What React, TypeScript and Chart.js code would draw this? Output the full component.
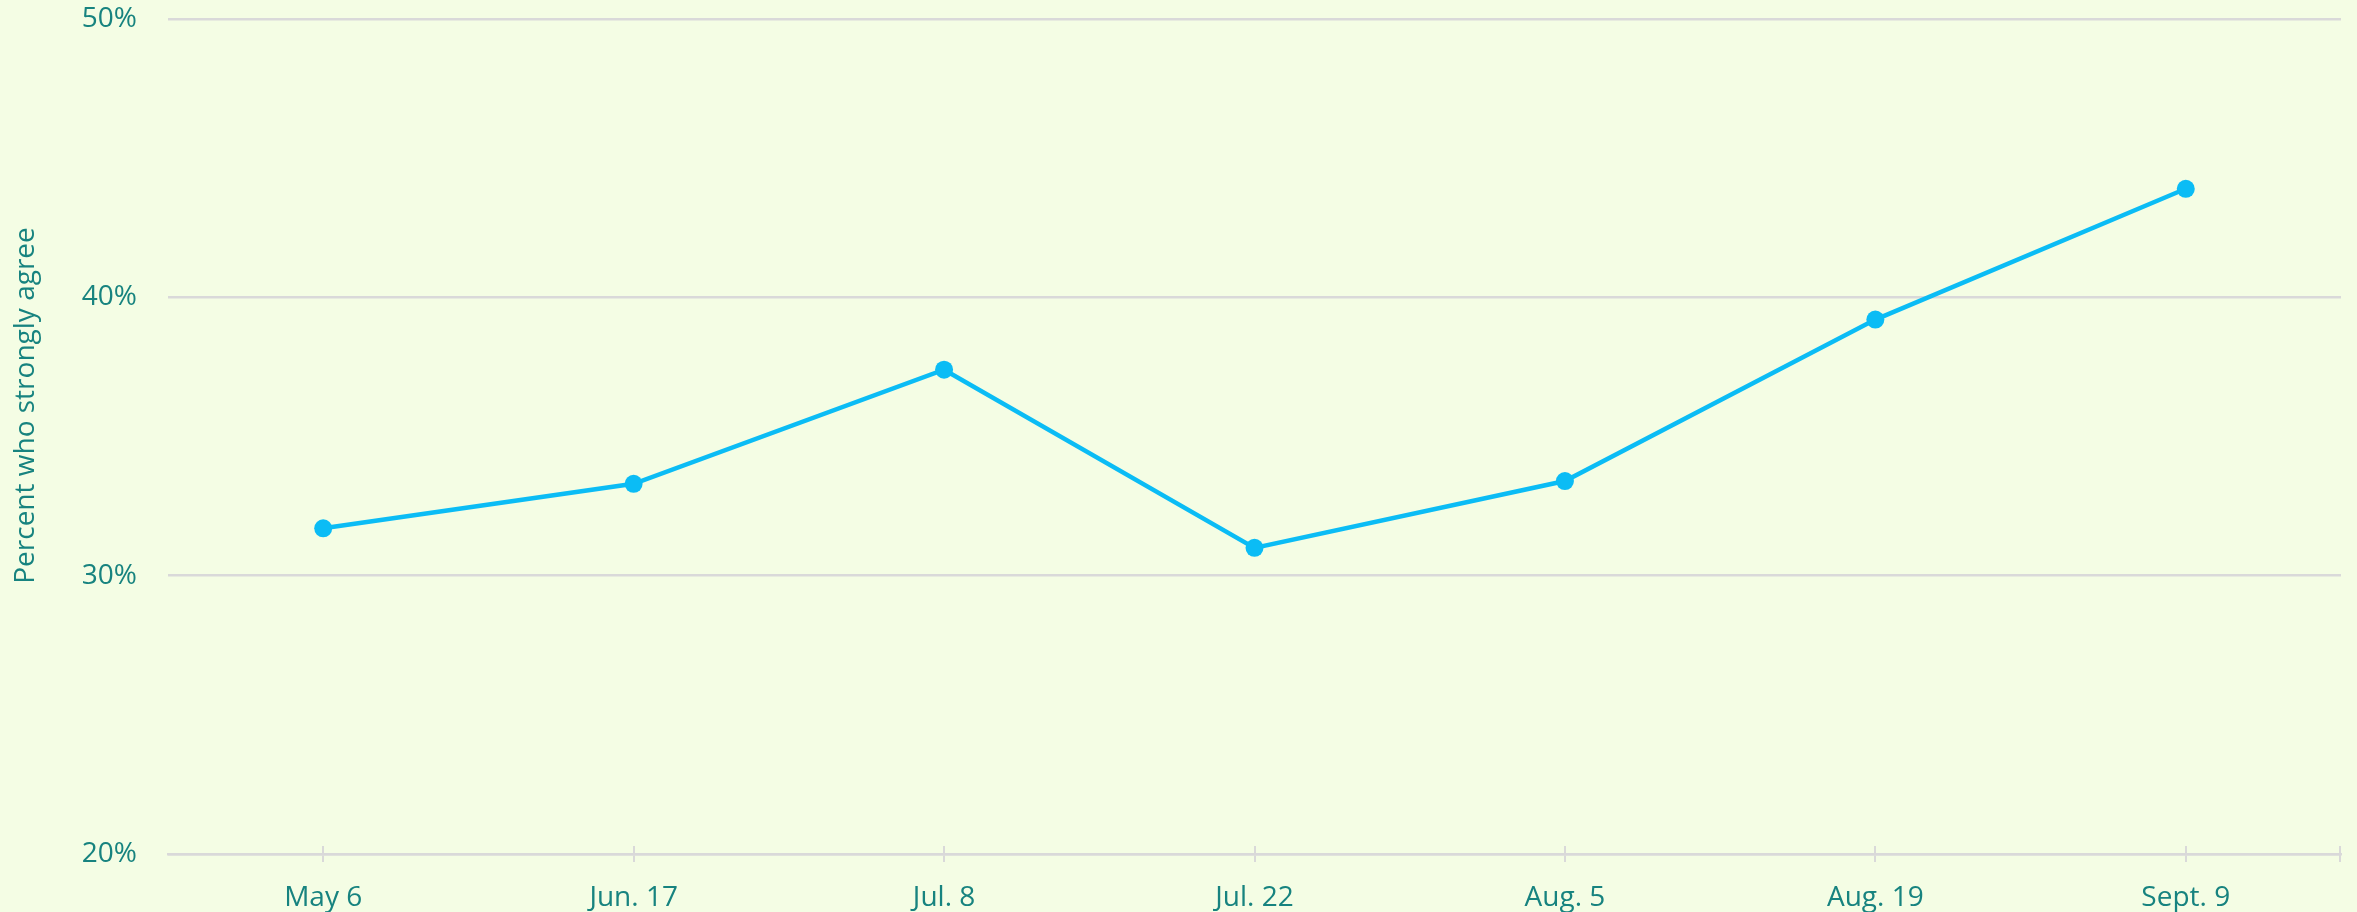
import React, { useEffect, useRef } from "react";
import { Chart, registerables } from "chart.js";

Chart.register(...registerables);

const categories = ["May 6", "Jun. 17", "Jul. 8", "Jul. 22", "Aug. 5", "Aug. 19", "Sept. 9"];
const strongAgree = [31.7, 33.3, 37.4, 31.0, 33.4, 39.2, 43.9];
const yTicks = [20, 30, 40, 50];
const yTitle = "Percent who strongly agree";

const BG = "#f4fde4";
const TEXT = "#17837f";
const LINE = "#0bbcf5";
const GRID = "#d9d9d9";
const FONT = "'Open Sans', 'Noto Sans', sans-serif";

export default function App() {
  const ref = useRef<HTMLCanvasElement | null>(null);

  useEffect(() => {
    document.body.style.margin = "0";
    document.body.style.background = BG;
    const canvas = ref.current;
    if (!canvas) return;

    const extras = {
      id: "extras",
      afterDraw(chart: any) {
        const { ctx, chartArea } = chart;
        ctx.save();
        ctx.strokeStyle = GRID;
        ctx.lineWidth = 2;
        ctx.beginPath();
        ctx.moveTo(chartArea.right - 1, chartArea.bottom - 8);
        ctx.lineTo(chartArea.right - 1, chartArea.bottom + 8);
        ctx.stroke();
        const xs = chart.scales.x;
        categories.forEach((_, i) => {
          const px = Math.round(xs.getPixelForValue(i));
          ctx.beginPath();
          ctx.moveTo(px, chartArea.bottom - 8);
          ctx.lineTo(px, chartArea.bottom);
          ctx.stroke();
        });
        ctx.fillStyle = TEXT;
        ctx.font = `28px ${FONT}`;
        ctx.textAlign = "center";
        ctx.textBaseline = "middle";
        ctx.translate(26, (chartArea.top + chartArea.bottom) / 2 - 31);
        ctx.rotate(-Math.PI / 2);
        ctx.fillText(yTitle, 0, 0);
        ctx.restore();
      },
    };

    const chart = new Chart(canvas, {
      type: "line",
      data: {
        labels: categories,
        datasets: [
          {
            data: strongAgree,
            borderColor: LINE,
            backgroundColor: LINE,
            borderWidth: 4.5,
            pointRadius: 9,
            pointBorderWidth: 0,
            pointBackgroundColor: LINE,
            tension: 0,
          },
        ],
      },
      options: {
        animation: false,
        responsive: false,
        maintainAspectRatio: false,
        layout: { padding: { top: 19, right: 16, left: 0, bottom: 0 } },
        plugins: {
          legend: { display: false },
          tooltip: { enabled: false },
        },
        scales: {
          x: {
            type: "category",
            offset: true,
            afterFit(scale: any) {
              scale.height = 58;
              scale.paddingLeft = 0;
              scale.paddingRight = 0;
            },
            grid: {
              offset: false,
              drawOnChartArea: false,
              drawTicks: true,
              tickLength: 8,
              color: GRID,
              lineWidth: 2,
            },
            border: { display: true, color: GRID, width: 2.5 },
            ticks: {
              color: TEXT,
              font: { family: FONT, size: 28 },
              padding: 19,
              maxRotation: 0,
              autoSkip: false,
            },
          },
          y: {
            min: 20,
            max: 50,
            afterFit(scale: any) {
              scale.width = 168;
              scale.paddingTop = 0;
              scale.paddingBottom = 0;
            },
            afterBuildTicks(scale: any) {
              scale.ticks = yTicks.map((v) => ({ value: v }));
            },
            grid: {
              color: GRID,
              lineWidth: 2.5,
              drawTicks: false,
            },
            border: { display: false },
            ticks: {
              color: TEXT,
              font: { family: FONT, size: 28 },
              padding: 31,
              callback: (v: any) => `${v}%`,
            },
          },
        },
      },
      plugins: [extras],
    });

    return () => chart.destroy();
  }, []);

  return (
    <div style={{ width: 2357, height: 912, background: BG }}>
      <canvas ref={ref} width={2357} height={912} style={{ display: "block" }} />
    </div>
  );
}
